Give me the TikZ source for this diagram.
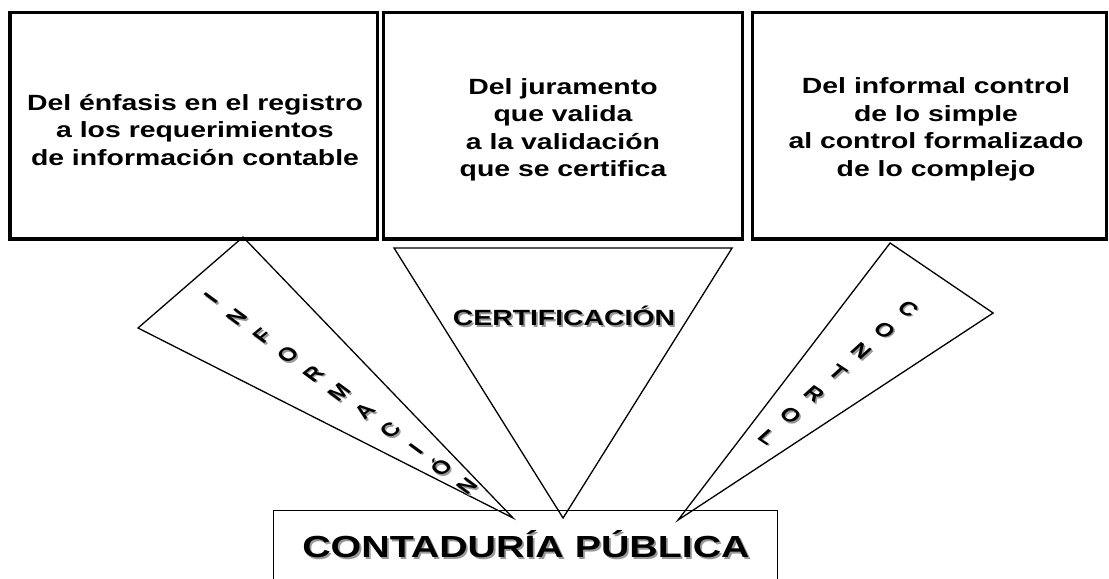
\documentclass[tikz,border=0pt]{standalone}
\usepackage{fontspec}
\setmainfont{Liberation Sans}
\usetikzlibrary{calc}
\begin{document}
\begin{tikzpicture}[x=0.775194pt, y=-1pt, xscale=1.29,
  box/.style={draw, line width=3.2pt, inner sep=0pt, outer sep=0pt},
  basebox/.style={draw, line width=1.8pt, inner sep=0pt, outer sep=0pt},
  btext/.style={font=\bfseries\fontsize{22}{27.5}\selectfont, align=center, transform shape, inner sep=0pt},
  ctext/.style={font=\bfseries\fontsize{22}{22}\selectfont, transform shape, inner sep=0pt, anchor=base},
  bigtext/.style={font=\bfseries\fontsize{30.5}{30.5}\selectfont, transform shape, inner sep=0pt, anchor=base},
  letter/.style={font=\bfseries\fontsize{19}{19}\selectfont, text height=13.6pt, text depth=0pt, inner sep=0pt, transform shape},
  shade/.style={text=black!40},
  tri/.style={draw, line width=1.3pt, line join=miter}]
\fill[white] (0,0) rectangle (1109,578);
\useasboundingbox (0,0) rectangle (1109,578);
% top boxes
\node[box, minimum width=367.7pt, minimum height=226.7pt] (b1) at (193.9,125.6) {};
\node[box, minimum width=359pt, minimum height=226.7pt] (b2) at (563,125.6) {};
\node[box, minimum width=354pt, minimum height=226.7pt] (b3) at (929.5,125.6) {};
\node[btext] (t1) at (195,130) {Del énfasis en el registro\\a los requerimientos\\de información contable};
\node[btext] (t2) at (563,130) {Del juramento\\que valida\\a la validación\\que se certifica};
\node[btext] (t3) at (936,129.5) {Del informal control\\de lo simple\\al control formalizado\\de lo complejo};
% bottom box
\node[basebox, minimum width=504pt, minimum height=90pt] (cp) at (525.5,555.5) {};
\node[bigtext, shade] (cps) at (527.8,559.3) {CONTADURÍA PÚBLICA};
\node[bigtext] (cpt) at (526,557) {CONTADURÍA PÚBLICA};
% triangles
\coordinate (i1) at (243,237);
\coordinate (i2) at (138,328);
\coordinate (i3) at (513,518);
\coordinate (c1) at (394,248);
\coordinate (c2) at (732,248);
\coordinate (c3) at (563,518);
\coordinate (k1) at (890,243);
\coordinate (k2) at (993,313);
\coordinate (k3) at (678,520);
\draw[tri] (i1) -- (i2) -- (i3) -- cycle;
\draw[tri] (c1) -- (c2) -- (c3) -- cycle;
\draw[tri] (k1) -- (k2) -- (k3) -- cycle;
% CERTIFICACION
\node[ctext, shade] (certs) at (565.8,327.5) {CERTIFICACIÓN};
\node[ctext] (cert) at (564,325.5) {CERTIFICACIÓN};
% INFORMACION letters
\coordinate (istart) at (210.7,298.3);
\foreach \ch [count=\i from 0] in {I,N,F,O,R,M,A,C,I,Ó,N} {
  \node[letter, shade, rotate=46.5] (infs\i) at ($(istart)+\i*(25.6,18.8)+(1.5,1.5)$) {\ch};
  \node[letter, rotate=46.5] (inf\i) at ($(istart)+\i*(25.6,18.8)$) {\ch};
}
% CONTROL letters
\coordinate (kstart) at (908.3,308.3);
\foreach \ch [count=\i from 0] in {C,O,N,T,R,O,L} {
  \node[letter, shade, rotate=-40.4] (ctls\i) at ($(kstart)+\i*(-23.5,21.4)+(1.5,1.5)$) {\ch};
  \node[letter, rotate=-40.4] (ctl\i) at ($(kstart)+\i*(-23.5,21.4)$) {\ch};
}
\end{tikzpicture}
\end{document}
